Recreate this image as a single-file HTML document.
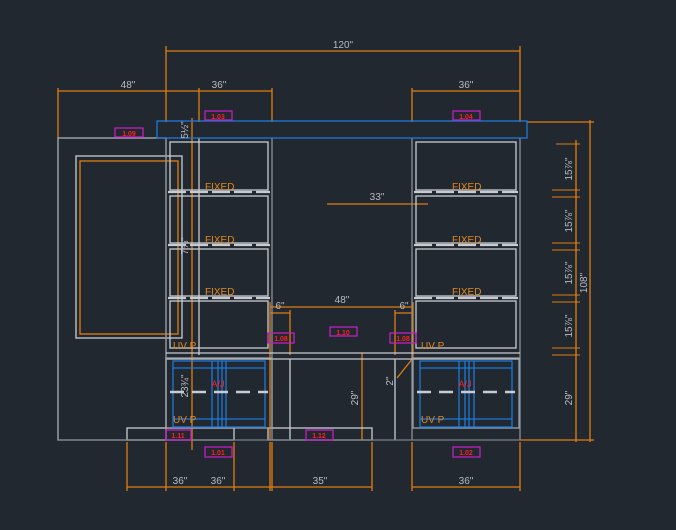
<!DOCTYPE html>
<html><head><meta charset="utf-8"><style>
html,body{margin:0;padding:0;background:#212830;}
svg{display:block}
text{font-family:"Liberation Sans",sans-serif;}
</style></head><body>
<svg width="676" height="530" viewBox="0 0 676 530" xmlns="http://www.w3.org/2000/svg">
<rect width="676" height="530" fill="#212830"/>
<g stroke="#e07d10" stroke-width="1.3" fill="none">
 <!-- top dims -->
 <line x1="166" y1="51" x2="520" y2="51"/>
 <line x1="166" y1="46" x2="166" y2="122"/>
 <line x1="520" y1="46" x2="520" y2="122"/>
 <line x1="58" y1="91" x2="272" y2="91"/>
 <line x1="58" y1="88" x2="58" y2="138"/>
 <line x1="199" y1="88" x2="199" y2="122"/>
 <line x1="272" y1="88" x2="272" y2="122"/>
 <line x1="412" y1="91" x2="520" y2="91"/>
 <line x1="412" y1="88" x2="412" y2="122"/>
 <!-- left vertical dim -->
 <line x1="192" y1="118" x2="192" y2="450"/>
 <!-- left door inner orange -->
 <rect x="80" y="161" width="98" height="173"/>
 <!-- 33 -->
 <line x1="327" y1="204" x2="428" y2="204"/>
 <!-- 48 -->
 <line x1="270" y1="307" x2="413" y2="307"/>
 <line x1="270" y1="313" x2="290" y2="313"/>
 <line x1="395" y1="313" x2="413" y2="313"/>
 <line x1="270" y1="302" x2="270" y2="440"/>
 <line x1="290" y1="310" x2="290" y2="355"/>
 <line x1="395" y1="310" x2="395" y2="355"/>
 <line x1="413" y1="302" x2="413" y2="358"/>
 <line x1="362" y1="353" x2="362" y2="440"/>
 <line x1="413" y1="358" x2="397" y2="378"/>
 <!-- right dims -->
 <line x1="576" y1="140" x2="576" y2="442"/>
 <line x1="590" y1="120" x2="590" y2="442"/>
 <line x1="527" y1="122" x2="594" y2="122"/>
 <line x1="520" y1="440" x2="594" y2="440"/>
 <g stroke-width="1">
 <line x1="556" y1="144" x2="580" y2="144"/>
 <line x1="552" y1="190" x2="580" y2="190"/><line x1="552" y1="197" x2="580" y2="197"/>
 <line x1="552" y1="243" x2="580" y2="243"/><line x1="552" y1="250" x2="580" y2="250"/>
 <line x1="552" y1="295" x2="580" y2="295"/><line x1="552" y1="302" x2="580" y2="302"/>
 <line x1="552" y1="348" x2="580" y2="348"/><line x1="552" y1="355" x2="580" y2="355"/>
 </g>
 <!-- bottom dims -->
 <line x1="127" y1="487" x2="272" y2="487"/>
 <line x1="272" y1="487" x2="372" y2="487"/>
 <line x1="412" y1="487" x2="520" y2="487"/>
 <line x1="127" y1="442" x2="127" y2="491"/>
 <line x1="166" y1="442" x2="166" y2="491"/>
 <line x1="234" y1="442" x2="234" y2="491"/>
 <line x1="270" y1="442" x2="270" y2="491"/>
 <line x1="272" y1="442" x2="272" y2="491"/>
 <line x1="372" y1="442" x2="372" y2="491"/>
 <line x1="412" y1="442" x2="412" y2="491"/>
 <line x1="520" y1="442" x2="520" y2="491"/>
</g>
<!-- grey structure -->
<g stroke="#c8ccd2" stroke-width="1.3" fill="none">
 <rect x="58" y="138" width="108" height="302" stroke="#aab0b8"/>
 <rect x="76" y="156" width="106" height="182"/>
 <line x1="166" y1="138" x2="166" y2="440" stroke="#8a9098"/>
 <line x1="272" y1="138" x2="272" y2="440" stroke="#8a9098"/>
 <line x1="199" y1="138" x2="199" y2="355"/>
 <line x1="412" y1="138" x2="412" y2="440" stroke="#8a9098"/>
 <line x1="520" y1="138" x2="520" y2="440" stroke="#8a9098"/>
 <rect x="170" y="142" width="98" height="48"/>
 <rect x="170" y="196" width="98" height="47"/>
 <rect x="170" y="249" width="98" height="47"/>
 <rect x="170" y="301" width="98" height="47"/>
 <rect x="416" y="142" width="100" height="48"/>
 <rect x="416" y="196" width="100" height="47"/>
 <rect x="416" y="249" width="100" height="47"/>
 <rect x="416" y="301" width="100" height="47"/>
 <g stroke-width="2.2" stroke-dasharray="18 4">
  <line x1="168" y1="192" x2="270" y2="192"/>
  <line x1="168" y1="245" x2="270" y2="245"/>
  <line x1="168" y1="298" x2="270" y2="298"/>
  <line x1="414" y1="192" x2="518" y2="192"/>
  <line x1="414" y1="245" x2="518" y2="245"/>
  <line x1="414" y1="298" x2="518" y2="298"/>
 </g>
 <line x1="166" y1="353" x2="520" y2="353"/>
 <line x1="166" y1="359" x2="520" y2="359"/>
 <line x1="290" y1="359" x2="290" y2="440"/>
 <line x1="395" y1="359" x2="395" y2="440"/>
 <rect x="127" y="428" width="107" height="12"/>
 <rect x="268" y="428" width="104" height="12"/>
 <line x1="58" y1="440" x2="520" y2="440" stroke="#7a8088"/>
 <rect x="166" y="358" width="106" height="70" stroke="#9aa0a8"/>
 <rect x="413" y="358" width="106" height="70" stroke="#9aa0a8"/>
</g>
<!-- blue -->
<g stroke="#1e78d8" stroke-width="1.3" fill="none">
 <rect x="157" y="121" width="370" height="17"/>
 <rect x="173" y="361" width="92" height="66"/>
 <line x1="173" y1="368" x2="265" y2="368"/>
 <line x1="173" y1="419" x2="265" y2="419"/>
 <line x1="212" y1="361" x2="212" y2="427"/>
 <line x1="218" y1="361" x2="218" y2="427"/>
 <line x1="222" y1="361" x2="222" y2="427"/>
 <line x1="226" y1="361" x2="226" y2="427"/>
 <rect x="420" y="361" width="92" height="66"/>
 <line x1="420" y1="368" x2="512" y2="368"/>
 <line x1="420" y1="419" x2="512" y2="419"/>
 <line x1="459" y1="361" x2="459" y2="427"/>
 <line x1="465" y1="361" x2="465" y2="427"/>
 <line x1="469" y1="361" x2="469" y2="427"/>
 <line x1="474" y1="361" x2="474" y2="427"/>
</g>
<g stroke="#c8ccd2" stroke-width="2.5" stroke-dasharray="14 8">
 <line x1="170" y1="392" x2="268" y2="392"/>
 <line x1="417" y1="392" x2="515" y2="392"/>
</g>
<!-- tags -->
<g stroke="#c020c0" stroke-width="1.3" fill="none">
 <rect x="205" y="111" width="27" height="9"/>
 <rect x="453" y="111" width="27" height="9"/>
 <rect x="115" y="128" width="28" height="9"/>
 <rect x="268" y="333" width="26" height="10"/>
 <rect x="330" y="327" width="27" height="9"/>
 <rect x="390" y="333" width="26" height="10"/>
 <rect x="166" y="430" width="25" height="10"/>
 <rect x="306" y="430" width="27" height="10"/>
 <rect x="205" y="447" width="27" height="10"/>
 <rect x="453" y="447" width="27" height="10"/>
</g>
<g fill="#ff2020" font-size="7" font-weight="bold" text-anchor="middle">
 <text x="218" y="119">1.03</text><text x="466" y="119">1.04</text>
 <text x="129" y="136">1.09</text><text x="281" y="341">1.08</text>
 <text x="343" y="335">1.10</text><text x="403" y="341">1.08</text>
 <text x="178" y="438">1.11</text><text x="319" y="438">1.12</text>
 <text x="218" y="455">1.01</text><text x="466" y="455">1.02</text>
 <text x="218" y="387" font-weight="normal" font-size="9">A/J</text>
 <text x="465" y="387" font-weight="normal" font-size="9">A/J</text>
</g>
<g fill="#e08820" font-size="10">
 <text x="205" y="190">FIXED</text><text x="205" y="243">FIXED</text><text x="205" y="295">FIXED</text>
 <text x="452" y="190">FIXED</text><text x="452" y="243">FIXED</text><text x="452" y="295">FIXED</text>
 <text x="173" y="349">UV P</text><text x="173" y="423">UV P</text>
 <text x="421" y="349">UV P</text><text x="421" y="423">UV P</text>
</g>
<g fill="#b8bcc0" font-size="10" text-anchor="middle">
 <text x="343" y="48">120"</text>
 <text x="128" y="88">48"</text><text x="219" y="88">36"</text><text x="466" y="88">36"</text>
 <text x="377" y="200">33"</text>
 <text x="342" y="303">48"</text><text x="280" y="309">6"</text><text x="404" y="309">6"</text>
 <text x="180" y="484">36"</text><text x="218" y="484">36"</text><text x="320" y="484">35"</text><text x="466" y="484">36"</text>
 <text transform="translate(572,169) rotate(-90)">15⅞"</text>
 <text transform="translate(572,221) rotate(-90)">15⅞"</text>
 <text transform="translate(572,273) rotate(-90)">15⅞"</text>
 <text transform="translate(572,326) rotate(-90)">15⅞"</text>
 <text transform="translate(572,398) rotate(-90)">29"</text>
 <text transform="translate(587,283) rotate(-90)">108"</text>
 <text transform="translate(358,398) rotate(-90)">29"</text>
 <text transform="translate(393,381) rotate(-90)">2"</text>
 <text transform="translate(188,130) rotate(-90)">5½"</text>
 <text transform="translate(188,246) rotate(-90)">7⅝"</text>
 <text transform="translate(188,386) rotate(-90)">23¾"</text>
</g>
</svg>
</body></html>
